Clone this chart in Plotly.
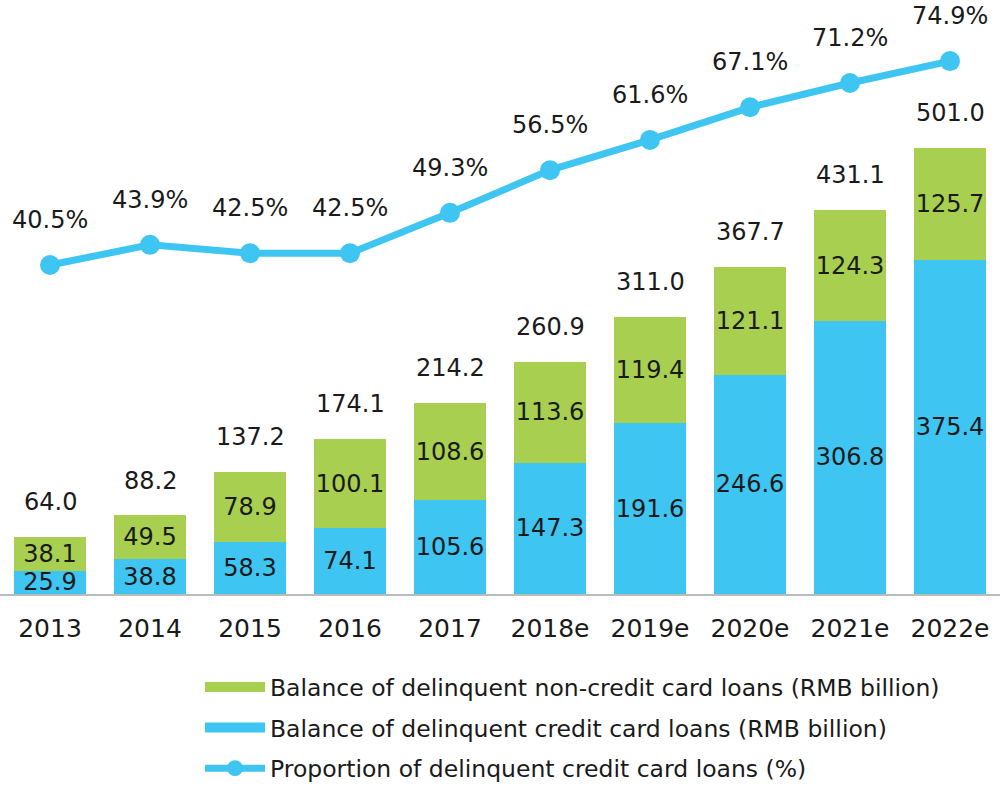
import plotly.graph_objects as go

years = ["2013", "2014", "2015", "2016", "2017", "2018e", "2019e", "2020e", "2021e", "2022e"]
credit_card = [25.9, 38.8, 58.3, 74.1, 105.6, 147.3, 191.6, 246.6, 306.8, 375.4]
non_credit_card = [38.1, 49.5, 78.9, 100.1, 108.6, 113.6, 119.4, 121.1, 124.3, 125.7]
totals = [64.0, 88.2, 137.2, 174.1, 214.2, 260.9, 311.0, 367.7, 431.1, 501.0]
proportion = [40.5, 43.9, 42.5, 42.5, 49.3, 56.5, 61.6, 67.1, 71.2, 74.9]

BLUE = "#3FC5F2"
GREEN = "#A8CF4F"
FONT = "DejaVu Sans"
TXT = "#1a1a1a"
LS = 24

fig = go.Figure()
fig.add_trace(go.Bar(
    x=years, y=credit_card, marker_color=BLUE, marker_line_width=0,
    text=[f"{v:.1f}" for v in credit_card], textposition="inside",
    insidetextanchor="middle", textangle=0, constraintext="none",
    textfont=dict(size=LS, color=TXT, family=FONT),
    showlegend=False, hoverinfo="skip"))
fig.add_trace(go.Bar(
    x=years, y=non_credit_card, marker_color=GREEN, marker_line_width=0,
    text=[f"{v:.1f}" for v in non_credit_card], textposition="inside",
    insidetextanchor="middle", textangle=0, constraintext="none",
    textfont=dict(size=LS, color=TXT, family=FONT),
    showlegend=False, hoverinfo="skip"))
fig.add_trace(go.Scatter(
    x=years, y=proportion, yaxis="y2", mode="lines+markers",
    line=dict(color=BLUE, width=7), marker=dict(color=BLUE, size=20),
    showlegend=False, hoverinfo="skip"))

# legend entries
fig.add_trace(go.Scatter(
    x=[years[0]], y=[None], mode="lines", line=dict(color=GREEN, width=18),
    name="Balance of delinquent non-credit card loans (RMB billion)",
    legendrank=1, legendgroup="a", hoverinfo="skip"))
fig.add_trace(go.Scatter(
    x=[years[0]], y=[None], mode="lines", line=dict(color=BLUE, width=18),
    name="Balance of delinquent credit card loans (RMB billion)",
    legendrank=2, legendgroup="b", hoverinfo="skip"))
fig.add_trace(go.Scatter(
    x=[years[0]], y=[None], mode="lines+markers", line=dict(color=BLUE, width=7),
    marker=dict(color=BLUE, size=20),
    name="Proportion of delinquent credit card loans (%)",
    legendrank=3, legendgroup="c", hoverinfo="skip"))

annotations = []
for i, t in enumerate(totals):
    annotations.append(dict(x=i, y=t, xref="x", yref="y", text=f"{t:.1f}",
                            showarrow=False, yanchor="middle", yshift=35,
                            font=dict(size=LS, color=TXT, family=FONT)))
for i, p in enumerate(proportion):
    annotations.append(dict(x=i, y=p, xref="x", yref="y2", text=f"{p:.1f}%",
                            showarrow=False, yanchor="middle", yshift=45,
                            font=dict(size=LS, color=TXT, family=FONT)))

fig.update_layout(
    width=1000, height=787,
    margin=dict(l=0, r=0, t=0, b=193, autoexpand=False),
    paper_bgcolor="white", plot_bgcolor="white",
    barmode="stack", bargap=0.28,
    font=dict(family=FONT, color=TXT),
    hovermode=False,
    xaxis=dict(type="category", categoryorder="array", categoryarray=years,
               range=[-0.5, 9.5], showgrid=False, showline=True, linecolor="#bbbbbb",
               linewidth=2, ticks="outside", ticklen=11, tickcolor="rgba(0,0,0,0)",
               tickfont=dict(size=25, color=TXT, family=FONT), fixedrange=True,
               automargin=False),
    yaxis=dict(range=[0, 667.4], visible=False, showgrid=False, fixedrange=True),
    yaxis2=dict(range=[-15.0, 85.2], overlaying="y", anchor="x", visible=False,
                showgrid=False, fixedrange=True),
    legend=dict(x=0.2, xanchor="left", y=-0.12, yanchor="top", traceorder="grouped",
                font=dict(size=23.5, color=TXT, family=FONT), itemwidth=60,
                tracegroupgap=7, bgcolor="rgba(0,0,0,0)"),
    annotations=annotations,
)

fig.write_html("out.html", config={"displayModeBar": False},
               post_script="document.body.style.margin='0';")
